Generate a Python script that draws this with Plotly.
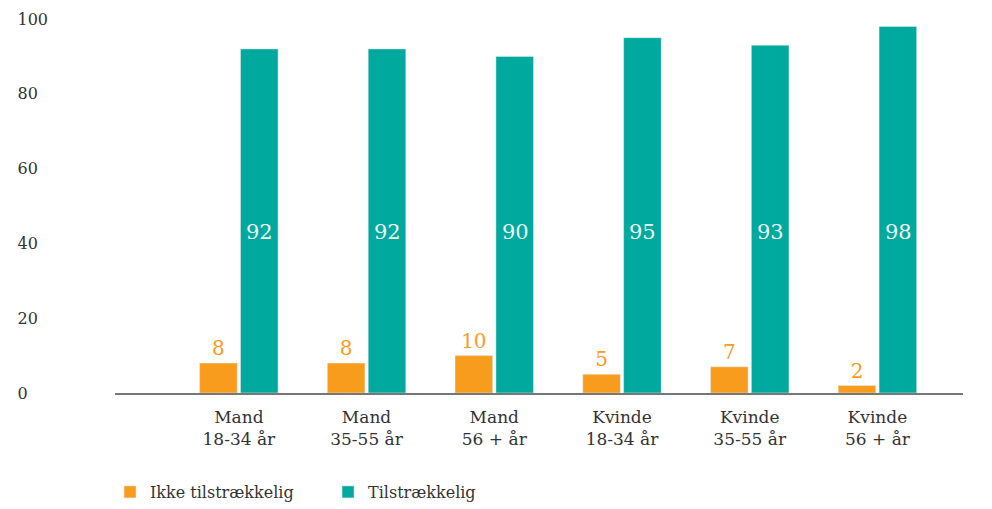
import plotly.graph_objects as go

categories = ["Mand<br>18-34 år", "Mand<br>35-55 år", "Mand<br>56 + år",
              "Kvinde<br>18-34 år", "Kvinde<br>35-55 år", "Kvinde<br>56 + år"]
ikke_tilstraekkelig = [8, 8, 10, 5, 7, 2]
tilstraekkelig = [92, 92, 90, 95, 93, 98]
series_names = ["Ikke tilstrækkelig", "Tilstrækkelig"]
y_ticks = [0, 20, 40, 60, 80, 100]

ORANGE = "#F89C1E"
TEAL = "#00A99D"
FONT = "DejaVu Serif"
TXT = "#333333"

# left-aligned look for y tick labels (pad to same width with non-breaking spaces)
maxlen = max(len(str(v)) for v in y_ticks)
y_ticktext = [str(v) + "\u00a0\u00a0" * (maxlen - len(str(v))) for v in y_ticks]

fig = go.Figure()
fig.add_trace(go.Bar(
    x=categories, y=ikke_tilstraekkelig, name=series_names[0],
    marker=dict(color=ORANGE),
    text=[str(v) for v in ikke_tilstraekkelig], textposition="outside",
    textfont=dict(color=ORANGE, size=20, family=FONT), cliponaxis=False,
))
fig.add_trace(go.Bar(
    x=categories, y=tilstraekkelig, name=series_names[1],
    marker=dict(color=TEAL),
))

for c, v in zip(categories, tilstraekkelig):
    fig.add_annotation(x=c, y=43, text=str(v), showarrow=False, xref="x", yref="y",
                       xshift=21, font=dict(color="#EEF7F5", size=21, family=FONT))

fig.update_layout(
    width=976, height=501,
    margin=dict(l=10, r=21, t=11, b=116),
    paper_bgcolor="white", plot_bgcolor="white",
    font=dict(family=FONT, color=TXT, size=16),
    barmode="group", bargap=0.36, bargroupgap=0.08,
    showlegend=True,
    legend=dict(orientation="h", x=0.0974, xanchor="left", yref="container", y=0,
                yanchor="bottom", font=dict(size=16, color=TXT), itemwidth=30,
                entrywidth=173, entrywidthmode="pixels", traceorder="normal"),
    xaxis=dict(domain=[0.1026, 1], range=[-0.97, 5.67], showline=True, linecolor="#777777",
               linewidth=1.5, ticks="", tickfont=dict(size=17, color=TXT), showgrid=False,
               automargin=False, ticklabelstandoff=8),
    yaxis=dict(range=[0, 100], tickvals=y_ticks, ticktext=y_ticktext, showgrid=False,
               zeroline=False, anchor="free", position=0.0318, ticks="",
               tickfont=dict(size=16, color=TXT), showline=False, automargin=False),
)

fig.write_html("out.html")
